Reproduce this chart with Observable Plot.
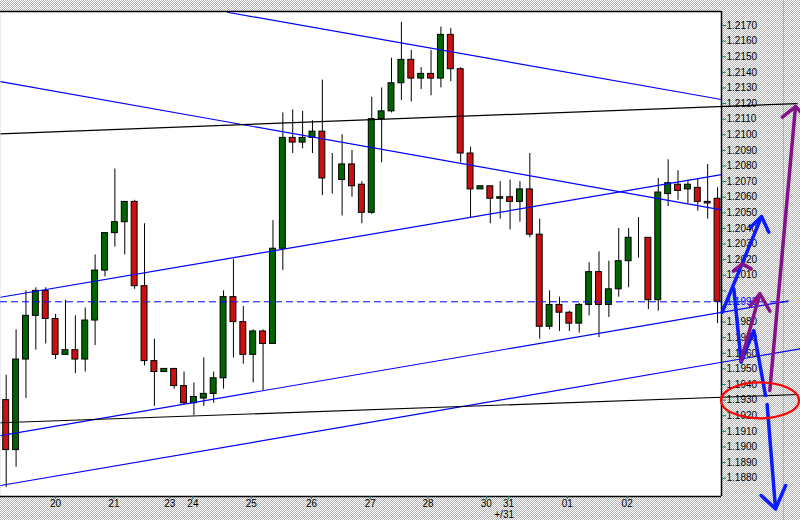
<!DOCTYPE html>
<html><head><meta charset="utf-8">
<script src="https://cdn.jsdelivr.net/npm/d3@7"></script>
<script src="https://cdn.jsdelivr.net/npm/@observablehq/plot@0.6"></script>
<style>
html,body{margin:0;padding:0;background:#fff;}
#chart{width:800px;height:520px;position:relative;overflow:hidden;
 background: repeating-conic-gradient(#b4b4b4 0% 25%, #ffffff 0% 50%) 0 0/2px 2px;}
#chart svg{display:block;}
</style></head><body><div id="chart"></div>
<script>
// OHLC of 4-hour candles (index 0..72)
const openP = [1.1930,1.1898,1.1956,1.1984,1.2000,1.1982,1.1959,1.1962,1.1956,1.1981,
1.2013,1.2037,1.2044,1.2057,1.2003,1.1955,1.1948,1.1950,1.1939,1.1928,
1.1931,1.1934,1.1944,1.1996,1.1980,1.1959,1.1974,1.1966,1.2027,1.2098,
1.2095,1.2098,1.2102,1.2072,1.2071,1.2081,1.2068,1.2050,1.2110,1.2115,
1.2133,1.2148,1.2136,1.2139,1.2136,1.2164,1.2142,1.2088,1.2065,1.2067,
1.2059,1.2060,1.2057,1.2065,1.2036,1.1977,1.1991,1.1986,1.1979,1.1991,
1.2012,1.1991,1.2001,1.2019,1.2034,1.2034,1.1994,1.2062,1.2068,1.2065,
1.2066,1.2057,1.2059];
const highP = [1.1946,1.1975,1.2000,1.2002,1.2002,1.1985,1.1994,1.1984,1.1989,1.2023,
1.2037,1.2078,1.2057,1.2058,1.2043,1.1969,1.1950,1.1950,1.1948,1.1941,
1.1957,1.1948,1.2000,1.2020,1.1990,1.1975,1.1975,1.2045,1.2114,1.2116,
1.2115,1.2109,1.2135,1.2088,1.2100,1.2090,1.2070,1.2124,1.2130,1.2149,
1.2172,1.2154,1.2143,1.2154,1.2169,1.2168,1.2143,1.2092,1.2067,1.2067,
1.2070,1.2071,1.2070,1.2088,1.2046,1.2000,1.1996,1.1987,1.1992,1.2018,
1.2025,1.2019,1.2040,1.2040,1.2047,1.2034,1.2072,1.2084,1.2077,1.2071,
1.2072,1.2081,1.2066];
const lowP = [1.1874,1.1887,1.1931,1.1962,1.1966,1.1956,1.1959,1.1947,1.1948,1.1965,
1.2009,1.2028,1.2023,1.2001,1.1952,1.1926,1.1948,1.1937,1.1927,1.1920,
1.1926,1.1928,1.1937,1.1957,1.1953,1.1941,1.1936,1.1966,1.2013,1.2088,
1.2091,1.2088,1.2061,1.2062,1.2048,1.2060,1.2043,1.2049,1.2082,1.2114,
1.2122,1.2121,1.2129,1.2125,1.2130,1.2134,1.2082,1.2047,1.2065,1.2043,
1.2046,1.2039,1.2044,1.2034,1.1969,1.1975,1.1974,1.1974,1.1973,1.1984,
1.1970,1.1983,1.1996,1.2002,1.2021,1.1988,1.1987,1.2054,1.2058,1.2056,
1.2051,1.2046,1.1979];
const closeP = [1.1898,1.1956,1.1984,1.2000,1.1982,1.1959,1.1962,1.1956,1.1981,1.2013,
1.2037,1.2044,1.2057,1.2003,1.1955,1.1948,1.1950,1.1939,1.1928,1.1932,
1.1934,1.1944,1.1996,1.1980,1.1959,1.1974,1.1966,1.2027,1.2098,1.2095,
1.2098,1.2102,1.2072,1.2072,1.2081,1.2067,1.2050,1.2110,1.2115,1.2133,
1.2148,1.2136,1.2139,1.2136,1.2164,1.2142,1.2088,1.2065,1.2067,1.2059,
1.2060,1.2057,1.2065,1.2036,1.1977,1.1991,1.1986,1.1979,1.1991,1.2012,
1.1991,1.2001,1.2019,1.2034,1.2034,1.1994,1.2063,1.2069,1.2064,1.2068,
1.2057,1.2056,1.1993];

// day labels on the time axis (positions in candle index units)
const dayTickPos = [5, 10.9, 16.55, 18.9, 24.8, 30.9, 36.85, 42.7, 48.6, 50.85, 56.8, 62.85];
const dayTickLabel = ["20","21","23","24","25","26","27","28","30","31","01","02"];

// price axis ticks (1.2000 and 1.1990 labels are hidden by the current-price label)
const priceTicks = [1.2170,1.2160,1.2150,1.2140,1.2130,1.2120,1.2110,1.2100,1.2090,1.2080,
1.2070,1.2060,1.2050,1.2040,1.2030,1.2020,1.2010,1.2000,1.1990,1.1980,1.1970,1.1960,
1.1950,1.1940,1.1930,1.1920,1.1910,1.1900,1.1890,1.1880];
const hiddenTickLabels = [1.2000, 1.1990];
const currentPrice = 1.1993;

// trend lines: start/end in (candle index, price)
const trendX1 = [22.37, -0.577, -0.577, -0.577, -0.577, -0.577, -0.577];
const trendY1 = [1.21785, 1.21341, 1.21006, 1.19959, 1.19073, 1.18753, 1.19155];
const trendX2 = [72.4, 72.4, 80.09, 72.4, 79.21, 80.39, 80.19];
const trendY2 = [1.21226, 1.20519, 1.21200, 1.20745, 1.19936, 1.19629, 1.19336];
const trendColor = ["#0000ff","#0000ff","#000000","#0000ff","#0000ff","#0000ff","#000000"];

// hand-drawn annotation strokes (candle index, price)
const annoX = [
  [72.47, 76.45], [75.33, 76.45, 77.19],
  [73.65, 74.39, 75.67, 76.85],
  [77.02, 77.87], [76.42, 77.87, 78.89],
  [74.39, 76.28], [75.33, 76.28, 77.29],
  [73.6, 74.5, 75.4],
  [77.29, 79.89], [78.56, 79.89, 81.0]
];
const annoY = [
  [1.19863, 1.20476], [1.20408, 1.20476, 1.20376],
  [1.20013, 1.19543, 1.19746, 1.19330],
  [1.19272, 1.18604], [1.18689, 1.18604, 1.18753],
  [1.19554, 1.19981], [1.19906, 1.19981, 1.19870],
  [1.20126, 1.20173, 1.20141],
  [1.19362, 1.21181], [1.21113, 1.21181, 1.21105]
];
const annoColor = ["#0a1aff","#0a1aff","#0a1aff","#0a1aff","#0a1aff",
  "#85108a","#85108a","#85108a","#85108a","#85108a"];
const ellipseCenter = [76.35, 1.19295];

const xDomain = [-0.577, 72.4];
const yDomain = [1.186827, 1.217897];

const candles = openP.map((o, i) => ({i, o, h: highP[i], l: lowP[i], c: closeP[i]}));
const trends = trendX1.map((x, k) => ({x1: x, y1: trendY1[k], x2: trendX2[k], y2: trendY2[k], s: trendColor[k]}));
const anno = annoX.flatMap((xs, k) => xs.map((x, j) => ({k, x, y: annoY[k][j], s: annoColor[k]})));
const dayMap = new Map(dayTickPos.map((p, k) => [p, dayTickLabel[k]]));

const chart = Plot.plot({
  width: 800, height: 520,
  marginTop: 11, marginBottom: 24, marginLeft: 0, marginRight: 79,
  style: {background: "transparent", fontFamily: "Arial, 'Liberation Sans', sans-serif", fontSize: "10px", overflow: "visible"},
  x: {domain: xDomain, axis: null},
  y: {domain: yDomain, axis: null},
  color: {type: "identity"},
  marks: [
    Plot.frame({fill: "white", stroke: "none"}),
    Plot.ruleX([78.67], {y1: 1.2186, y2: 1.1853, stroke: "#c8a4a4"}),
    Plot.ruleX(candles, {x: "i", y1: "l", y2: "h", stroke: "black", strokeWidth: 1}),
    Plot.rect(candles, {x1: d => d.i - 0.3, x2: d => d.i + 0.3, y1: "o", y2: "c",
      fill: d => d.c > d.o ? "#006400" : d.c < d.o ? "#cc1010" : "black", stroke: "black", strokeWidth: 1}),
    Plot.link(trends, {x1: "x1", y1: "y1", x2: "x2", y2: "y2", stroke: "s", strokeWidth: 1.2}),
    Plot.ruleY([currentPrice], {x1: xDomain[0], x2: 79.2, stroke: "#0000ff", strokeDasharray: "7,4"}),
    Plot.ruleY([yDomain[1], yDomain[0]], {stroke: "black", strokeWidth: 1.5}),
    Plot.ruleX([xDomain[1]], {stroke: "black", strokeWidth: 1.5}),
    Plot.axisY(priceTicks, {anchor: "right", tickSize: 4, tickPadding: 1, stroke: "#008080", fill: "black",
      fontSize: 10, label: null,
      tickFormat: d => hiddenTickLabels.some(h => Math.abs(d - h) < 1e-9) ? "" : d.toFixed(4)}),
    Plot.axisX(dayTickPos, {anchor: "bottom", tickSize: 3, tickPadding: 0, stroke: "#008080", fill: "black",
      fontSize: 10, label: null, tickFormat: d => dayMap.get(d)}),
    Plot.text([currentPrice], {x: xDomain[1], y: d => d, text: d => d.toFixed(4), dx: 5, textAnchor: "start", fill: "#0000ff", fontSize: 10}),
    Plot.text(["+/31"], {x: 49.4, y: 1.18563, text: d => d, textAnchor: "start", fontSize: 10, fill: "black"}),
    Plot.line(anno, {x: "x", y: "y", z: "k", stroke: "s", strokeWidth: 3.5, strokeLinejoin: "round", strokeLinecap: "round"})
  ]
});

const sx = chart.scale("x"), sy = chart.scale("y");
const cx = sx.apply(ellipseCenter[0]), cy = sy.apply(ellipseCenter[1]);
const rx = sx.apply(ellipseCenter[0] + 3.95) - cx;
const ry = sy.apply(ellipseCenter[1] - 0.00115) - cy;
d3.select(chart).append("ellipse")
  .attr("cx", cx).attr("cy", cy).attr("rx", rx).attr("ry", ry)
  .attr("fill", "none").attr("stroke", "#ff0000").attr("stroke-width", 2.2);

document.getElementById("chart").appendChild(chart);
</script>
</body></html>
